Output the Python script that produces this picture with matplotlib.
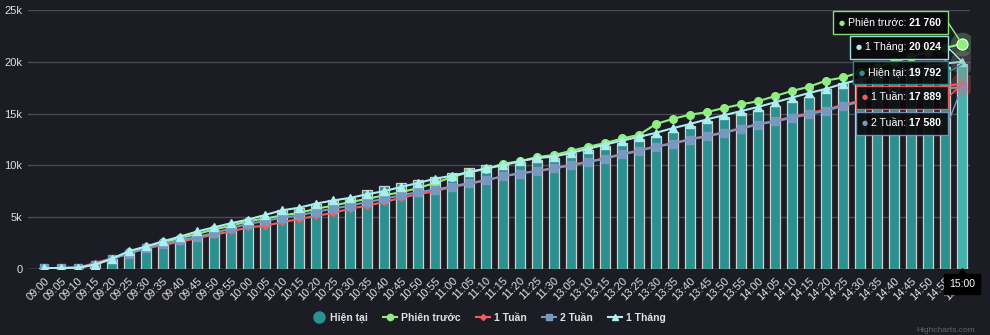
import matplotlib
matplotlib.use("Agg")
import matplotlib.pyplot as plt
from matplotlib.patches import Rectangle
import numpy as np

plt.rcParams["font.family"] = ["Liberation Sans", "DejaVu Sans"]

times = ["09:00", "09:05", "09:10", "09:15", "09:20", "09:25", "09:30", "09:35", "09:40", "09:45",
         "09:50", "09:55", "10:00", "10:05", "10:10", "10:15", "10:20", "10:25", "10:30", "10:35",
         "10:40", "10:45", "10:50", "10:55", "11:00", "11:05", "11:10", "11:15", "11:20", "11:25",
         "11:30", "13:05", "13:10", "13:15", "13:20", "13:25", "13:30", "13:35", "13:40", "13:45",
         "13:50", "13:55", "14:00", "14:05", "14:10", "14:15", "14:20", "14:25", "14:30", "14:35",
         "14:40", "14:45", "14:50", "14:55", "15:00"]

hien_tai = [50, 60, 90, 420, 950, 1500, 2050, 2500, 2950, 3300,
            3700, 4050, 4600, 5000, 5650, 5900, 6300, 6600, 6800, 7600,
            8000, 8300, 8550, 8900, 9300, 9700, 10000, 10150, 10350, 10550,
            10750, 11200, 11500, 11850, 12200, 12550, 12850, 13200, 13800, 14300,
            14700, 15100, 15350, 15750, 16200, 16600, 17400, 18000, 18400, 18700,
            18950, 19150, 19350, 19550, 19792]

phien_truoc = [50, 60, 100, 400, 950, 1600, 2100, 2550, 2950, 3350,
               3800, 4150, 4600, 4850, 5150, 5400, 5800, 6100, 6450, 6750,
               7100, 7400, 7800, 8300, 8850, 9350, 9650, 10150, 10400, 10800,
               11000, 11400, 11800, 12150, 12600, 12950, 14000, 14500, 14900, 15150,
               15550, 15900, 16200, 16700, 17200, 17600, 18200, 18500, 19000, 19500,
               20000, 20500, 20950, 21350, 21760]

mot_tuan = [50, 60, 100, 550, 1000, 1500, 1950, 2300, 2600, 2950,
            3300, 3600, 4000, 4150, 4500, 4800, 5100, 5400, 5800, 6100,
            6450, 6850, 7200, 7500, 7900, 8200, 8550, 8950, 9250, 9450,
            9750, 10050, 10350, 10700, 11100, 11450, 11850, 12150, 12550, 12850,
            13200, 13600, 14000, 14300, 14700, 15050, 15400, 15850, 16250, 16650,
            16950, 17250, 17500, 17700, 17889]

hai_tuan = [50, 60, 90, 400, 950, 1450, 2000, 2400, 2750, 3050,
            3450, 3900, 4350, 4600, 4950, 5150, 5500, 5800, 6100, 6450,
            6750, 7100, 7400, 7650, 7950, 8300, 8550, 8950, 9200, 9450,
            9700, 10000, 10300, 10650, 11050, 11400, 11800, 12100, 12500, 12800,
            13150, 13550, 13950, 14250, 14600, 14950, 15300, 15750, 16150, 16500,
            16800, 17050, 17250, 17420, 17580]

mot_thang = [50, 70, 100, 400, 970, 1700, 2150, 2650, 3100, 3600,
             4000, 4400, 4750, 5200, 5650, 5900, 6300, 6600, 6850, 7200,
             7500, 7900, 8300, 8700, 9000, 9350, 9700, 10000, 10400, 10700,
             10850, 11200, 11600, 12000, 12400, 12750, 13150, 13600, 14000, 14450,
             14850, 15250, 15650, 16100, 16550, 17000, 17400, 17900, 18300, 18700,
             19000, 19300, 19600, 19850, 20024]

BG = "#1c1c25"
TXT = "#e0e0e3"
c_bar, c_pt, c_1t, c_2t, c_1m = "#2b908f", "#90ee7e", "#f45b5b", "#7798bf", "#aaeeee"

W, H = 990, 335
fig = plt.figure(figsize=(W / 100, H / 100), dpi=100, facecolor=BG)
ax = fig.add_axes([28 / W, 1 - 268.7 / H, 942 / W, (268.7 - 10.3) / H])
ax.set_facecolor(BG)

x = np.arange(len(times))
bar_colors = [c_bar] * (len(times) - 1) + ["#45b3ab"]
ax.bar(x, hien_tai, width=0.64, color=bar_colors, edgecolor="#cfcfcf", linewidth=0.9, zorder=2)

series = [
    ("Phiên trước", phien_truoc, c_pt, "o", 5.5),
    ("1 Tuần", mot_tuan, c_1t, "D", 3.2),
    ("2 Tuần", hai_tuan, c_2t, "s", 5.5),
    ("1 Tháng", mot_thang, c_1m, "^", 6),
]
for i, (name, vals, col, mk, ms) in enumerate(series):
    ax.plot(x, vals, color=col, lw=1.5, marker=mk, ms=ms, mec=col, zorder=3 + i)

# hover halos on last point
ax.plot(x[-1], phien_truoc[-1], "o", ms=17, color=c_pt, alpha=0.25, mec="none", zorder=7)
ax.plot(x[-1], phien_truoc[-1], "o", ms=8, color=c_pt, mec="#ffffff", mew=0.8, zorder=8)
ax.plot(x[-1], mot_thang[-1], "o", ms=17, color="#888888", alpha=0.3, mec="none", zorder=7)
ax.plot(x[-1], mot_tuan[-1], "o", ms=17, color=c_1t, alpha=0.25, mec="none", zorder=7)

ax.set_xlim(-0.94, len(times) - 1 + 0.47)
ax.set_ylim(0, 25000)
ax.set_yticks(range(0, 25001, 5000))
ax.set_yticklabels(["0", "5k", "10k", "15k", "20k", "25k"])
ax.grid(axis="y", color="#4a4a52", lw=1, zorder=0)
ax.set_xticks(x)
ax.set_xticklabels(times, rotation=45, ha="right", rotation_mode="anchor")
ax.tick_params(axis="x", colors=TXT, labelsize=8, length=0, pad=5)
ax.tick_params(axis="y", colors=TXT, labelsize=8, length=0, pad=4)
for s in ax.spines.values():
    s.set_visible(False)
ax.axhline(0, color="#707078", lw=1, zorder=1)

# legend
leg_items = [("Hiện tại", c_bar, "o", None), ("Phiên trước", c_pt, "o", "-"),
             ("1 Tuần", c_1t, "D", "-"), ("2 Tuần", c_2t, "s", "-"), ("1 Tháng", c_1m, "^", "-")]
handles = []
for name, col, mk, ls in leg_items:
    if ls is None:
        h = plt.Line2D([], [], ls="none", marker="o", ms=8, color=col)
    else:
        h = plt.Line2D([], [], ls="-", lw=1.5, marker=mk, ms=4.5 if mk != "D" else 3, color=col)
    handles.append(h)
leg = fig.legend(handles, [i[0] for i in leg_items], loc="center", bbox_to_anchor=(489 / W, 1 - 318 / H),
                 ncol=5, frameon=False, handlelength=1.3, handletextpad=0.4, columnspacing=1.5,
                 prop={"weight": "bold", "size": 7.5})
for t in leg.get_texts():
    t.set_color(TXT)

# tooltips
fig.canvas.draw()
r = fig.canvas.get_renderer()
tips = [
    ("Phiên trước", phien_truoc[-1], c_pt, 22.5),
    ("1 Tháng", mot_thang[-1], c_1m, 47.5),
    ("Hiện tại", hien_tai[-1], c_bar, 72.5),
    ("1 Tuần", mot_tuan[-1], c_1t, 97.5),
    ("2 Tuần", hai_tuan[-1], c_2t, 123),
]
right = 948
for name, val, col, yc in tips:
    yf = H - yc
    vs = f"{val:,}".replace(",", " ")
    tv = fig.text(right - 7, yf, vs, color="white", fontsize=7.6, weight="bold",
                  ha="right", va="center", transform=None, zorder=21)
    bb = tv.get_window_extent(r)
    tl = fig.text(bb.x0, yf, name + ": ", color="white", fontsize=7.6,
                  ha="right", va="center", transform=None, zorder=21)
    bb2 = tl.get_window_extent(r)
    fig.text(bb2.x0 - 3, yf, "●", color=col, fontsize=5, ha="right", va="center",
             family="DejaVu Sans", transform=None, zorder=21)
    left = bb2.x0 - 15
    fig.patches.append(Rectangle((left, yf - 11.5), right - left, 23, transform=None,
                                 facecolor="#0a0a0c", edgecolor=col, lw=1, alpha=0.92, zorder=20))
    ax.annotate("", xy=(x[-1], val), xycoords="data", xytext=(right, yf), textcoords="figure pixels",
                arrowprops=dict(arrowstyle="-", color=col, lw=1, shrinkA=0, shrinkB=0), zorder=19)

# crosshair label
ax.annotate(times[-1], xy=(x[-1], 0), xycoords="data", xytext=(0, -11), textcoords="offset points",
            ha="center", va="center", color="white", fontsize=7.5, zorder=22, annotation_clip=False,
            bbox=dict(boxstyle="square,pad=0.5", fc="#000000", ec="#000000"))
ax.plot(x[-1], -300, marker="^", ms=6, color="#000000", clip_on=False, zorder=21)

fig.text(975 / W, 1 - 330 / H, "Highcharts.com", color="#666666", fontsize=6, ha="right", va="center")

fig.savefig("out.png", dpi=100, facecolor=BG)
